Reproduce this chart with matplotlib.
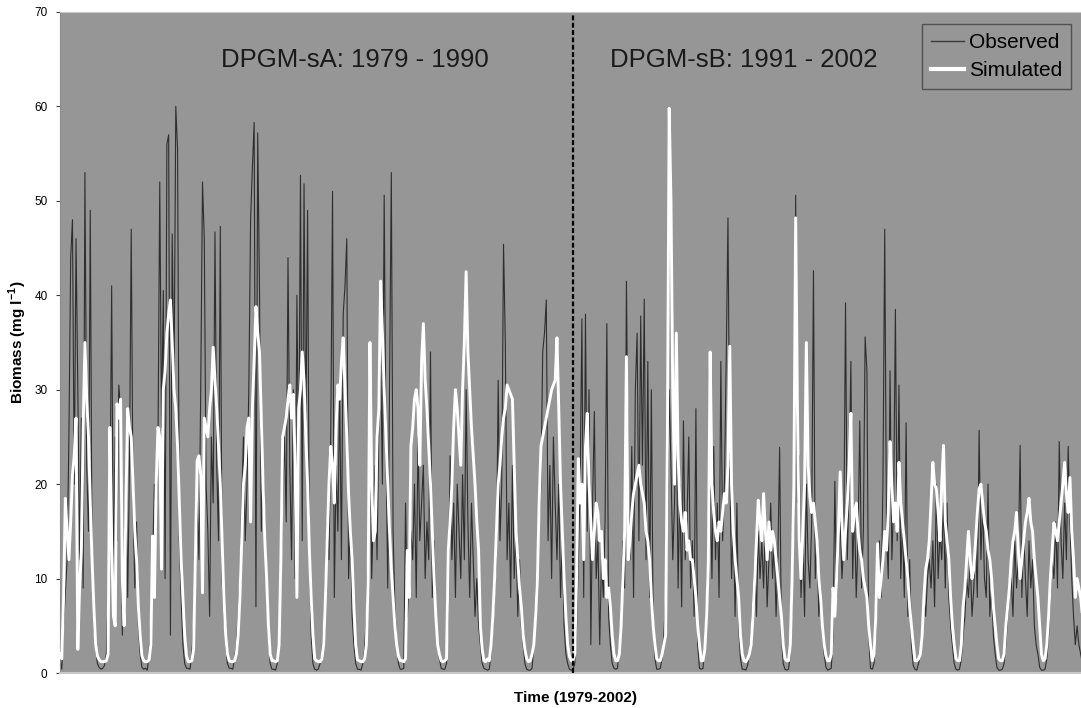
import numpy as np
import matplotlib
matplotlib.use("Agg")
import matplotlib.pyplot as plt
from matplotlib.lines import Line2D

plt.rcParams['font.family'] = ['Liberation Sans', 'DejaVu Sans']
plt.rcParams['mathtext.fontset'] = 'custom'
plt.rcParams['mathtext.rm'] = 'Liberation Sans'
plt.rcParams['mathtext.bf'] = 'Liberation Sans:bold'

# ------------------ DATA (24 samples per year) ------------------
start_year = 1979
split_year = 1991
samples_per_year = 24

# observed biomass (mg/l), 1979-1990 (model DPGM-sA)
obs_sA = [
    1.5, 0.4, 5.0, 8.5, 12.0, 25.0, 44.0, 48.0, 20.0, 46.0, 30.0, 12.0, 27.0, 9.0, 53.0, 22.0, 15.0, 49.0, 12.0, 5.0, 2.5, 1.0, 0.6, 0.4,       # 1979
    0.5, 0.8, 2.0, 8.0, 16.0, 41.0, 10.0, 25.0, 14.0, 30.5, 28.0, 4.0, 12.0, 20.0, 8.0, 22.0, 47.0, 18.0, 9.0, 16.0, 5.0, 2.0, 0.6, 0.4,      # 1980
    0.5, 0.3, 2.0, 6.0, 12.0, 20.0, 17.0, 24.0, 52.0, 26.0, 40.5, 10.0, 56.0, 57.0, 4.0, 46.5, 30.0, 60.0, 55.5, 14.0, 8.0, 3.0, 1.0, 0.5,     # 1981
    0.5, 0.4, 2.0, 5.0, 9.0, 18.0, 12.0, 30.0, 52.0, 46.0, 20.0, 15.0, 6.0, 25.0, 18.0, 46.7, 22.0, 14.0, 47.3, 10.0, 6.0, 3.0, 1.0, 0.5,     # 1982
    0.5, 0.4, 1.5, 3.0, 6.0, 10.0, 18.0, 25.0, 14.0, 20.0, 30.0, 48.0, 53.5, 58.3, 7.0, 57.2, 40.5, 15.0, 22.0, 16.0, 9.0, 4.0, 1.0, 0.4,     # 1983
    0.4, 0.3, 1.0, 4.0, 10.0, 18.0, 25.0, 16.0, 44.0, 22.0, 12.0, 30.0, 10.0, 40.0, 20.0, 52.7, 14.0, 51.8, 24.0, 49.0, 12.0, 4.0, 1.0, 0.4,   # 1984
    0.3, 0.4, 1.0, 2.0, 5.0, 10.0, 16.0, 12.0, 25.0, 51.0, 8.0, 22.0, 15.0, 30.0, 12.0, 38.0, 41.0, 46.0, 10.0, 16.0, 6.0, 3.0, 1.0, 0.4,     # 1985
    0.4, 0.3, 1.0, 2.5, 6.0, 14.0, 28.0, 10.0, 18.0, 22.0, 12.0, 26.0, 34.0, 20.0, 50.6, 24.0, 9.0, 30.0, 53.0, 15.0, 7.0, 3.0, 1.0, 0.4,     # 1986
    0.4, 0.5, 18.0, 6.0, 10.0, 15.0, 12.0, 20.0, 8.0, 25.0, 14.0, 18.0, 22.0, 10.0, 16.0, 12.0, 34.0, 8.0, 14.0, 5.0, 3.0, 1.5, 0.5, 0.4,     # 1987
    0.4, 1.0, 6.0, 23.0, 12.0, 18.0, 8.0, 20.0, 15.0, 10.0, 21.0, 12.0, 30.0, 16.0, 8.0, 18.0, 12.0, 6.0, 10.0, 5.0, 3.0, 1.0, 0.5, 0.4,      # 1988
    0.3, 0.4, 2.0, 5.0, 9.0, 12.0, 31.0, 14.0, 20.0, 45.4, 35.0, 12.0, 18.0, 8.0, 22.0, 10.0, 15.0, 6.0, 12.0, 5.0, 3.0, 1.0, 0.4, 0.3,       # 1989
    0.3, 0.5, 3.0, 8.0, 12.0, 16.0, 20.0, 34.0, 36.0, 39.5, 14.0, 22.0, 10.0, 25.0, 18.0, 12.0, 20.0, 8.0, 14.0, 5.0, 2.0, 1.0, 0.4, 0.3,     # 1990
]

# simulated biomass (mg/l), 1979-1990
sim_sA = [
    2.0, 1.5, 8.0, 18.5, 15.0, 12.0, 16.0, 21.0, 23.0, 27.0, 2.5, 9.0, 13.0, 26.0, 35.0, 29.0, 25.0, 18.0, 12.0, 7.0, 3.0, 1.8, 1.4, 1.2,      # 1979
    1.2, 1.2, 1.3, 2.0, 26.0, 14.0, 6.0, 5.0, 28.5, 27.0, 29.0, 10.0, 5.0, 18.0, 28.0, 26.0, 25.0, 20.0, 15.0, 12.0, 7.0, 4.0, 1.8, 1.3,      # 1980
    1.2, 1.2, 1.4, 3.0, 14.5, 8.0, 20.0, 26.0, 25.0, 11.0, 30.0, 32.0, 36.0, 38.0, 39.5, 35.0, 30.0, 28.0, 24.0, 18.0, 12.0, 8.0, 4.0, 1.8,   # 1981
    1.2, 1.2, 1.3, 2.5, 12.0, 22.5, 23.0, 21.0, 8.5, 27.0, 26.0, 25.0, 28.0, 30.0, 34.5, 31.0, 28.0, 24.0, 20.0, 14.0, 8.0, 4.0, 2.0, 1.3,    # 1982
    1.2, 1.2, 1.3, 2.0, 4.0, 8.0, 14.0, 20.0, 22.0, 26.0, 27.0, 16.0, 28.0, 33.0, 38.8, 36.0, 34.0, 27.0, 20.0, 14.0, 10.0, 5.0, 2.0, 1.3,    # 1983
    1.3, 1.2, 1.3, 3.0, 12.0, 25.0, 26.0, 27.0, 29.0, 30.5, 27.0, 29.5, 22.0, 8.0, 28.0, 30.0, 34.0, 31.0, 25.0, 20.0, 13.0, 8.0, 4.0, 1.5,   # 1984
    1.3, 1.2, 1.2, 1.5, 3.0, 8.0, 14.0, 20.0, 24.0, 22.0, 18.0, 26.0, 30.5, 29.0, 33.0, 35.5, 30.0, 25.0, 19.0, 15.0, 12.0, 7.0, 3.0, 1.4,    # 1985
    1.3, 1.2, 1.2, 1.5, 3.0, 10.0, 35.0, 20.0, 14.0, 15.0, 25.0, 28.0, 41.5, 36.0, 30.0, 25.0, 20.0, 15.0, 11.0, 8.0, 5.0, 3.0, 1.8, 1.3,     # 1986
    1.3, 1.2, 1.5, 13.0, 8.0, 24.0, 26.0, 29.0, 30.0, 28.0, 22.0, 33.0, 37.0, 31.0, 28.0, 24.0, 20.0, 15.0, 10.0, 6.0, 3.0, 2.0, 1.3, 1.2,    # 1987
    1.3, 1.5, 13.0, 16.0, 20.0, 26.0, 30.0, 28.0, 25.0, 22.0, 30.0, 35.0, 42.5, 34.0, 30.0, 26.0, 23.0, 20.0, 16.0, 13.0, 5.0, 2.5, 1.3, 1.2,  # 1988
    1.5, 1.3, 3.0, 6.0, 10.0, 15.0, 20.0, 22.0, 25.0, 27.0, 28.0, 30.5, 30.0, 29.5, 29.0, 22.0, 15.0, 12.0, 9.0, 7.0, 4.0, 2.5, 1.5, 1.2,     # 1989
    1.3, 2.0, 3.0, 6.0, 10.0, 18.0, 24.0, 25.0, 26.0, 27.0, 28.0, 29.0, 30.0, 30.5, 31.0, 35.5, 28.0, 20.0, 15.0, 10.0, 6.0, 3.0, 1.8, 1.3,   # 1990
]

# observed biomass (mg/l), 1991-2002 (model DPGM-sB)
obs_sB = [
    0.4, 1.0, 5.0, 12.0, 20.0, 37.5, 8.0, 38.0, 15.0, 30.0, 3.0, 18.0, 27.7, 10.0, 14.0, 3.0, 12.0, 8.0, 16.0, 37.0, 6.0, 3.0, 1.0, 0.5,      # 1991
    0.4, 0.5, 3.0, 6.0, 14.0, 9.0, 41.5, 20.0, 12.0, 24.0, 8.0, 30.0, 36.0, 14.0, 37.8, 22.0, 39.6, 12.0, 33.0, 8.0, 30.0, 5.0, 1.5, 0.4,     # 1992
    0.4, 0.5, 1.5, 4.0, 8.0, 15.0, 30.0, 22.0, 12.0, 18.0, 29.0, 9.0, 20.0, 7.0, 26.7, 12.0, 16.0, 25.0, 9.0, 14.0, 6.0, 28.0, 3.0, 0.5,      # 1993
    0.4, 0.5, 3.0, 8.0, 14.0, 20.0, 10.0, 24.0, 12.0, 18.0, 8.0, 33.0, 14.0, 20.0, 33.0, 48.2, 22.0, 10.0, 16.0, 6.0, 18.0, 5.0, 1.5, 0.4,    # 1994
    0.4, 0.3, 0.8, 2.0, 4.0, 8.0, 12.0, 6.0, 15.0, 10.0, 14.0, 9.0, 16.0, 7.0, 12.0, 18.0, 10.0, 14.0, 6.0, 12.0, 23.9, 4.0, 1.0, 0.4,        # 1995
    0.3, 0.4, 2.0, 8.0, 16.0, 50.6, 18.0, 23.0, 8.0, 14.0, 6.0, 20.0, 12.0, 9.0, 16.0, 42.6, 10.0, 14.0, 6.0, 9.0, 4.0, 2.0, 0.6, 0.3,        # 1996
    0.4, 0.5, 4.0, 20.3, 8.0, 12.0, 16.0, 10.0, 14.0, 39.2, 12.0, 20.0, 33.0, 10.0, 18.0, 8.0, 14.0, 26.7, 9.0, 15.0, 35.6, 32.0, 4.0, 0.5,   # 1997
    0.4, 1.0, 4.0, 9.0, 14.0, 8.0, 20.0, 47.0, 15.0, 10.0, 32.0, 12.0, 18.0, 38.5, 14.0, 30.5, 10.0, 16.0, 8.0, 26.5, 6.0, 12.0, 3.0, 0.8,    # 1998
    0.4, 0.3, 1.0, 2.0, 5.0, 8.0, 6.0, 10.0, 12.0, 9.0, 14.0, 7.0, 20.0, 10.0, 15.0, 12.0, 18.0, 9.0, 18.0, 8.0, 5.0, 3.0, 1.0, 0.4,          # 1999
    0.3, 0.4, 1.5, 4.0, 6.0, 10.0, 8.0, 12.0, 6.0, 9.0, 14.0, 8.0, 25.7, 12.0, 18.0, 10.0, 8.0, 20.0, 6.0, 9.0, 4.0, 2.0, 0.6, 0.3,           # 2000
    0.3, 0.4, 1.0, 3.0, 6.0, 8.0, 10.0, 6.0, 14.0, 9.0, 12.0, 24.1, 8.0, 15.0, 10.0, 6.0, 14.0, 9.0, 12.0, 5.0, 3.0, 2.0, 0.6, 0.3,          # 2001
    0.3, 0.4, 1.5, 4.0, 8.0, 12.0, 10.0, 16.0, 9.0, 24.5, 14.0, 10.0, 18.0, 12.0, 24.0, 16.0, 10.0, 6.0, 3.0, 5.0, 3.0, 2.0, 1.0, 0.5,        # 2002
]

# simulated biomass (mg/l), 1991-2002
sim_sB = [
    1.3, 2.0, 10.0, 22.7, 18.0, 20.0, 12.0, 24.0, 27.5, 20.0, 16.0, 12.0, 15.0, 18.0, 17.0, 14.0, 15.0, 10.0, 12.0, 8.0, 9.0, 7.0, 4.0, 2.0,   # 1991
    1.3, 1.3, 2.0, 5.0, 10.0, 15.0, 33.5, 12.0, 14.0, 17.0, 19.0, 20.0, 21.0, 22.0, 20.0, 19.0, 18.0, 15.0, 14.0, 12.0, 8.0, 5.0, 3.0, 1.5,   # 1992
    1.3, 1.3, 2.0, 3.0, 4.0, 25.0, 59.8, 50.0, 30.0, 20.0, 36.0, 23.0, 18.0, 16.0, 15.0, 17.0, 13.0, 14.0, 12.0, 12.0, 10.0, 8.0, 5.0, 3.0,   # 1993
    1.3, 1.3, 2.5, 6.0, 12.0, 34.0, 20.0, 17.0, 15.0, 14.0, 16.0, 15.0, 17.0, 19.0, 18.0, 22.0, 34.6, 20.0, 15.0, 12.0, 10.0, 8.0, 4.0, 2.0,  # 1994
    1.3, 1.2, 1.5, 2.0, 3.0, 6.0, 10.0, 14.0, 18.3, 16.0, 14.0, 19.0, 15.0, 12.0, 16.0, 13.0, 15.0, 14.0, 12.0, 10.0, 8.0, 6.0, 3.0, 1.5,     # 1995
    1.3, 1.3, 3.0, 10.0, 20.0, 48.2, 28.0, 14.0, 10.0, 15.0, 20.0, 35.0, 22.0, 18.7, 17.0, 18.0, 16.0, 14.0, 10.0, 8.0, 5.0, 3.0, 1.8, 1.3,   # 1996
    1.3, 2.0, 9.0, 6.0, 10.0, 15.0, 21.3, 16.0, 12.0, 15.0, 18.0, 22.0, 27.5, 15.0, 17.0, 18.0, 15.0, 13.0, 12.0, 10.0, 9.0, 8.0, 5.0, 3.0,   # 1997
    1.3, 2.0, 6.0, 13.7, 8.0, 10.0, 12.0, 15.0, 13.0, 17.0, 24.5, 20.0, 16.0, 18.0, 15.0, 22.3, 18.0, 16.0, 14.0, 12.0, 10.0, 7.0, 5.0, 3.0,  # 1998
    1.3, 1.3, 1.5, 2.0, 4.0, 8.0, 11.0, 12.0, 14.0, 18.0, 22.3, 20.0, 19.5, 17.0, 14.0, 20.0, 24.1, 16.0, 14.0, 12.0, 8.0, 5.0, 3.0, 1.5,     # 1999
    1.3, 1.3, 3.0, 7.0, 9.0, 12.0, 15.0, 12.0, 10.0, 11.0, 14.0, 17.0, 19.5, 20.0, 18.0, 16.0, 15.0, 13.0, 12.0, 10.0, 7.0, 5.0, 3.0, 1.5,    # 2000
    1.3, 1.3, 2.0, 5.0, 7.0, 9.0, 12.0, 14.0, 15.0, 17.0, 13.0, 10.0, 12.0, 14.0, 16.0, 17.0, 18.5, 16.0, 15.0, 12.0, 10.0, 8.0, 5.0, 2.0,    # 2001
    1.3, 1.5, 3.0, 6.0, 10.0, 13.0, 15.9, 15.0, 14.0, 16.0, 18.0, 20.0, 22.3, 19.0, 17.0, 20.7, 15.0, 12.0, 8.0, 10.0, 9.0, 8.0, 6.0, 4.0,    # 2002
]

period_labels = ['DPGM-sA: 1979 - 1990', 'DPGM-sB: 1991 - 2002']
series_labels = ['Observed', 'Simulated']

# ------------------ PLOT ------------------
observed = np.array(obs_sA + obs_sB)
simulated = np.array(sim_sA + sim_sB)
t = np.arange(len(observed)) / samples_per_year   # years since Jan 1979

bg = '#969696'
fig = plt.figure(figsize=(10.81, 7.08), dpi=100)
fig.patch.set_facecolor('white')
# axes run slightly past the right edge, as in the original
ax = fig.add_axes([60 / 1081, 35 / 708, 1026 / 1081, 661 / 708])
ax.set_facecolor(bg)

ax.plot(t, observed, color='#2e2e2e', lw=0.8, zorder=2)
ax.plot(t, simulated, color='white', lw=2.1, zorder=3)

split = split_year - start_year
ax.axvline(split, ymax=0.995, color='black', lw=1.6, linestyle=(0, (2.2, 1.1)), zorder=5)

ax.set_xlim(0, len(observed) / samples_per_year)
ax.set_ylim(0, 70)
ax.set_yticks(np.arange(0, 71, 10))
ax.set_xticks([])
ax.tick_params(axis='y', length=3, width=0.8, color='#404040', labelsize=8.5, pad=6)

for side in ['top', 'right']:
    ax.spines[side].set_color('#c8c8c8')
ax.spines['left'].set_color('#8c8c8c')
ax.spines['bottom'].set_color('#c8c8c8')
ax.spines['bottom'].set_linewidth(1.5)

ax.text(split / 2 + 0.9, 64.9, period_labels[0], fontsize=18.5, ha='center', va='center', color='#1a1a1a')
ax.text(split + 4.0, 64.9, period_labels[1], fontsize=18.5, ha='center', va='center', color='#1a1a1a')

handles = [Line2D([], [], color='#3a3a3a', lw=1.0),
           Line2D([], [], color='white', lw=3.0)]
leg = ax.legend(handles, series_labels, loc='upper left', bbox_to_anchor=(0.840, 0.982),
                fontsize=15, frameon=True, fancybox=False, facecolor=bg, edgecolor='#404040',
                handlelength=1.55, handletextpad=0.25, labelspacing=0.42, borderpad=0.45,
                borderaxespad=0.0)
leg.get_frame().set_linewidth(1.0)

fig.text(18 / 1081, 1 - 342 / 708, r'Biomass (mg l$^{\mathbf{-1}}$)', rotation=90,
         ha='center', va='center', fontsize=11, fontweight='bold')
fig.text(575 / 1081, 1 - 698 / 708, 'Time (1979-2002)', ha='center', va='center',
         fontsize=11, fontweight='bold')

fig.savefig('out.png', dpi=100)
